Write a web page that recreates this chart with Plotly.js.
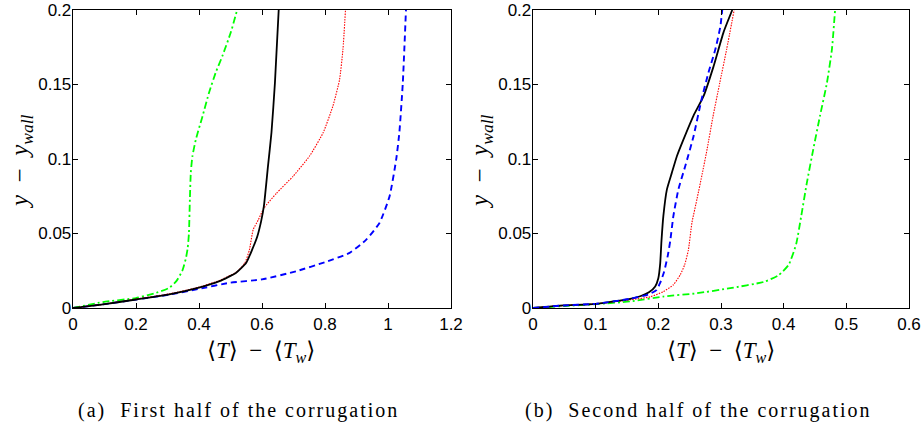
<!DOCTYPE html>
<html><head><meta charset="utf-8">
<script src="https://cdn.plot.ly/plotly-3.0.1.min.js"></script>
<style>
html,body{margin:0;padding:0;background:#fff}
#plot{width:924px;height:428px}
.annotation[data-index="4"] text, .annotation[data-index="5"] text{letter-spacing:2px}
</style>
</head><body><div id="plot"></div>
<script>
// Panel (a): first half of the corrugation
const aBlackX = [0, 0.095, 0.2, 0.306, 0.4, 0.465, 0.518, 0.55, 0.569, 0.585, 0.597, 0.606, 0.619, 0.630, 0.641, 0.653];
const aBlackY = [0, 0.0024, 0.0057, 0.0091, 0.0136, 0.018, 0.0237, 0.0304, 0.0393, 0.048, 0.058, 0.0683, 0.0952, 0.1176, 0.151, 0.2];
const aRedX = [0, 0.095, 0.2, 0.306, 0.4, 0.465, 0.518, 0.545, 0.56, 0.572, 0.588, 0.606, 0.646, 0.699, 0.751, 0.794, 0.825, 0.846, 0.857, 0.865];
const aRedY = [0, 0.0025, 0.006, 0.0095, 0.014, 0.0185, 0.024, 0.030, 0.039, 0.0526, 0.059, 0.067, 0.077, 0.0885, 0.102, 0.1176, 0.1355, 0.153, 0.1736, 0.2];
const aBlueX = [0, 0.095, 0.2, 0.306, 0.4, 0.497, 0.6, 0.709, 0.8, 0.878, 0.931, 0.973, 1.005, 1.026, 1.036, 1.047, 1.057];
const aBlueY = [0, 0.0024, 0.0057, 0.009, 0.0128, 0.0169, 0.0192, 0.0247, 0.0308, 0.037, 0.0459, 0.0571, 0.075, 0.0997, 0.1176, 0.151, 0.2];
const aGreenX = [0, 0.095, 0.2, 0.264, 0.306, 0.328, 0.347, 0.358, 0.364, 0.368, 0.371, 0.374, 0.379, 0.390, 0.411, 0.432, 0.453, 0.474, 0.501, 0.521];
const aGreenY = [0, 0.004, 0.0067, 0.0102, 0.0136, 0.018, 0.025, 0.033, 0.040, 0.050, 0.0728, 0.0909, 0.1017, 0.1131, 0.1286, 0.1446, 0.158, 0.169, 0.185, 0.2];

// Panel (b): second half of the corrugation
const bBlackX = [0, 0.049, 0.1, 0.155, 0.171, 0.185, 0.195, 0.2, 0.203, 0.205, 0.208, 0.2137, 0.2217, 0.2297, 0.240, 0.256, 0.272, 0.288, 0.304, 0.318];
const bBlackY = [0, 0.0017, 0.0028, 0.0062, 0.0079, 0.0105, 0.0145, 0.02, 0.03, 0.045, 0.0617, 0.0796, 0.0909, 0.102, 0.113, 0.129, 0.142, 0.162, 0.185, 0.2];
const bRedX = [0, 0.049, 0.1, 0.155, 0.187, 0.208, 0.224, 0.235, 0.242, 0.248, 0.2536, 0.2616, 0.27, 0.278, 0.287, 0.298, 0.309, 0.321];
const bRedY = [0, 0.0017, 0.0028, 0.0055, 0.0075, 0.011, 0.0156, 0.0223, 0.029, 0.039, 0.0572, 0.073, 0.09, 0.107, 0.128, 0.151, 0.1736, 0.2];
const bBlueX = [0, 0.049, 0.1, 0.155, 0.185, 0.197, 0.203, 0.209, 0.215, 0.219, 0.224, 0.232, 0.243, 0.256, 0.269, 0.280, 0.291, 0.299, 0.302];
const bBlueY = [0, 0.0017, 0.0028, 0.0062, 0.0092, 0.012, 0.017, 0.024, 0.035, 0.045, 0.0617, 0.0796, 0.0953, 0.115, 0.14, 0.158, 0.1736, 0.189, 0.2];
const bGreenX = [0, 0.05, 0.1, 0.155, 0.208, 0.2615, 0.3147, 0.368, 0.392, 0.408, 0.420, 0.428, 0.437, 0.447, 0.458, 0.469, 0.477, 0.482];
const bGreenY = [0, 0.0013, 0.0026, 0.0044, 0.0077, 0.0099, 0.0133, 0.0175, 0.022, 0.029, 0.043, 0.0616, 0.084, 0.106, 0.129, 0.151, 0.1736, 0.2];

const aTickVals = [0, 0.2, 0.4, 0.6, 0.8, 1, 1.2];
const aTickText = ['0', '0.2', '0.4', '0.6', '0.8', '1', '1.2'];
const bTickVals = [0, 0.1, 0.2, 0.3, 0.4, 0.5, 0.6];
const bTickText = ['0', '0.1', '0.2', '0.3', '0.4', '0.5', '0.6'];
const yTickVals = [0, 0.05, 0.1, 0.15, 0.2];
const yTickText = ['0', '0.05', '0.1', '0.15', '0.2'];
const captionA = "(a)\u00A0 First half of the corrugation";
const captionB = "(b)\u00A0 Second half of the corrugation";
const xTitle = "⟨<i>T</i>⟩\u00A0\u00A0−\u00A0\u00A0⟨<i>T</i><sub><i>w</i></sub>⟩";
const yTitle = "<i>y</i>\u00A0\u00A0−\u00A0\u00A0<i>y</i><sub><i>wall</i></sub>";

const styles = {
  black: {color: '#000000', width: 1.8, dash: 'solid'},
  red: {color: '#ff0000', width: 1.1, dash: '1.5px,1.2px'},
  blue: {color: '#0000ff', width: 1.9, dash: '6px,4px'},
  green: {color: '#00ff00', width: 1.8, dash: '7px,3px,2px,3px'}
};
function tr(x, y, st, xa, ya) {
  return {x: x, y: y, xaxis: xa, yaxis: ya, type: 'scatter', mode: 'lines',
    line: Object.assign({shape: 'spline', smoothing: 0.5}, st), hoverinfo: 'skip', showlegend: false};
}
const data = [
  tr(aBlueX, aBlueY, styles.blue, 'x', 'y'),
  tr(aGreenX, aGreenY, styles.green, 'x', 'y'),
  tr(aRedX, aRedY, styles.red, 'x', 'y'),
  tr(aBlackX, aBlackY, styles.black, 'x', 'y'),
  tr(bGreenX, bGreenY, styles.green, 'x2', 'y2'),
  tr(bRedX, bRedY, styles.red, 'x2', 'y2'),
  tr(bBlackX, bBlackY, styles.black, 'x2', 'y2'),
  tr(bBlueX, bBlueY, styles.blue, 'x2', 'y2')
];
const W = 924, H = 428;
function axis(extra) {
  return Object.assign({showline: true, linecolor: '#000', linewidth: 1.3, mirror: 'ticks', ticks: 'inside',
    ticklen: 5, tickcolor: '#000', tickwidth: 1, showgrid: false, zeroline: false, fixedrange: true,
    tickfont: {family: 'Liberation Sans, Arial, sans-serif', size: 17, color: '#000'}}, extra);
}
const yDom = [(H - 308) / H, (H - 10) / H];
const layout = {
  width: W, height: H, margin: {l: 0, r: 0, t: 0, b: 0},
  paper_bgcolor: '#fff', plot_bgcolor: '#fff', showlegend: false,
  xaxis: axis({domain: [73 / W, 451 / W], range: [0, 1.2], tickmode: 'array', tickvals: aTickVals, ticktext: aTickText, anchor: 'y'}),
  yaxis: axis({domain: yDom, range: [0, 0.2], tickmode: 'array', tickvals: yTickVals, ticktext: yTickText, anchor: 'x', ticklabelstandoff: -3}),
  xaxis2: axis({domain: [533 / W, 909 / W], range: [0, 0.6], tickmode: 'array', tickvals: bTickVals, ticktext: bTickText, anchor: 'y2'}),
  yaxis2: axis({domain: yDom, range: [0, 0.2], tickmode: 'array', tickvals: yTickVals, ticktext: yTickText, anchor: 'x2', ticklabelstandoff: -3}),
  annotations: []
};
const serif = 'Liberation Serif, DejaVu Serif, serif';
function ann(text, x, y, size, angle) {
  return {text: text, xref: 'paper', yref: 'paper', x: x / W, y: 1 - y / H, xanchor: 'center', yanchor: 'middle',
    showarrow: false, textangle: angle || 0, font: {family: serif, size: size, color: '#000'}};
}
layout.annotations.push(ann(xTitle, 261, 352, 23));
layout.annotations.push(ann(xTitle, 721, 352, 23));
layout.annotations.push(ann(yTitle, 21, 162, 25, -90));
layout.annotations.push(ann(yTitle, 481, 162, 25, -90));
layout.annotations.push(ann(captionA, 239, 410, 20));
layout.annotations.push(ann(captionB, 698, 410, 20));
Plotly.newPlot('plot', data, layout, {staticPlot: true, displayModeBar: false});
</script></body></html>
